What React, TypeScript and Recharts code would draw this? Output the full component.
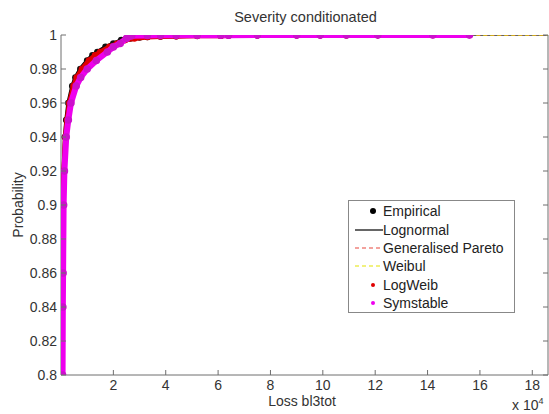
import {
  ComposedChart,
  Line,
  Scatter,
  XAxis,
  YAxis,
} from "recharts";

const FONT = "'Liberation Sans', Arial, sans-serif";
const AXIS = "#6e6e6e";
const INK = "#333";

// empirical CDF (x in units of 10^n)
const empX = [0.03, 0.04, 0.05, 0.07, 0.1, 0.15, 0.2, 0.28, 0.43, 0.55, 0.74, 1.0, 1.2, 1.39, 1.7, 2.0, 2.3, 2.65, 3.0, 3.3, 3.8, 4.4, 5.2, 6.1, 6.4, 7.5, 9.0, 9.9, 10.9, 12.1, 14.2, 15.6];
const empY = [0.8, 0.84, 0.87, 0.9, 0.92, 0.94, 0.95, 0.96, 0.97, 0.975, 0.98, 0.985, 0.988, 0.99, 0.993, 0.995, 0.997, 0.998, 0.9985, 0.9988, 0.9991, 0.9993, 0.9995, 0.9996, 0.9997, 0.9998, 0.99985, 0.9999, 0.99992, 0.99994, 0.99996, 0.99998];

const lognX = [0.03, 0.05, 0.07, 0.1, 0.15, 0.2, 0.28, 0.43, 0.74, 1.0, 1.4, 2.0, 2.7, 3.5, 5, 7, 10, 14, 18.6];
const lognY = [0.8, 0.87, 0.9, 0.92, 0.94, 0.95, 0.96, 0.97, 0.98, 0.985, 0.99, 0.995, 0.998, 0.999, 0.9995, 0.9997, 0.9998, 0.9999, 0.99995];

const gpX = [0.035, 0.05, 0.075, 0.1, 0.16, 0.22, 0.3, 0.45, 0.76, 1.05, 1.45, 2.05, 2.8, 3.6, 5, 7, 10, 14, 18.6];
const gpY = [0.8, 0.86, 0.9, 0.92, 0.94, 0.95, 0.96, 0.97, 0.98, 0.985, 0.99, 0.995, 0.998, 0.999, 0.9995, 0.9997, 0.9998, 0.9999, 0.99995];

const weibX = [0.03, 0.05, 0.07, 0.1, 0.15, 0.21, 0.29, 0.44, 0.75, 1.02, 1.42, 2.0, 2.7, 3.5, 5, 7, 10, 14, 18.6];
const weibY = [0.8, 0.87, 0.9, 0.92, 0.94, 0.95, 0.96, 0.97, 0.98, 0.985, 0.99, 0.995, 0.998, 0.999, 0.9995, 0.9997, 0.9998, 0.9999, 0.99995];

const lwX = [0.04, 0.05, 0.06, 0.08, 0.11, 0.17, 0.23, 0.32, 0.48, 0.6, 0.8, 1.07, 1.3, 1.5, 1.85, 2.15, 2.45, 2.8, 3.3, 3.8, 4.4, 5.2, 6.1, 6.4, 7.5, 9.0, 9.9, 10.9, 12.1, 14.2, 15.6];
const lwY = [0.8, 0.84, 0.87, 0.9, 0.92, 0.94, 0.95, 0.96, 0.97, 0.975, 0.98, 0.985, 0.988, 0.99, 0.993, 0.995, 0.997, 0.998, 0.9988, 0.9991, 0.9993, 0.9995, 0.9996, 0.9997, 0.9998, 0.99985, 0.9999, 0.99992, 0.99994, 0.99996, 0.99998];

const symX = [0.06, 0.07, 0.08, 0.1, 0.13, 0.2, 0.28, 0.38, 0.58, 0.75, 1.0, 1.35, 1.77, 2.0, 2.26, 2.5, 2.7, 3.3, 3.8, 4.4, 5.2, 6.1, 6.4, 7.5, 9.0, 9.9, 10.9, 12.1, 14.2, 15.6];
const symY = [0.8, 0.84, 0.86, 0.9, 0.92, 0.94, 0.95, 0.96, 0.97, 0.975, 0.98, 0.985, 0.99, 0.993, 0.995, 0.998, 0.9995, 0.9997, 0.9998, 0.9998, 0.9999, 0.9999, 0.9999, 0.99995, 0.99995, 0.99995, 0.99996, 0.99997, 0.99998, 0.99999];

const xTicks = [2, 4, 6, 8, 10, 12, 14, 16, 18];
const yTicks = [0.8, 0.82, 0.84, 0.86, 0.88, 0.9, 0.92, 0.94, 0.96, 0.98, 1];

const zip = (xs: number[], ys: number[]) => xs.map((x, i) => ({ x, y: ys[i] }));

const legendItems = [
  { name: "Empirical", kind: "dot", color: "#000", r: 3 },
  { name: "Lognormal", kind: "line", color: "#000", dash: "" },
  { name: "Generalised Pareto", kind: "line", color: "#e8463c", dash: "4 3" },
  { name: "Weibul", kind: "line", color: "#e4e400", dash: "4 3" },
  { name: "LogWeib", kind: "dot", color: "#e00000", r: 2 },
  { name: "Symstable", kind: "dot", color: "#ee00ee", r: 2 },
];

function BottomTick({ x, y, payload }: any) {
  return (
    <g>
      <line x1={x} x2={x} y1={y} y2={y - 5} stroke={AXIS} />
      <text x={x} y={y + 15} textAnchor="middle" fontSize={14} fill={INK} fontFamily={FONT}>
        {payload.value}
      </text>
    </g>
  );
}

function TopTick({ x, y }: any) {
  return <line x1={x} x2={x} y1={y} y2={y + 5} stroke={AXIS} />;
}

function LeftTick({ x, y, payload }: any) {
  return (
    <g>
      <line x1={x} x2={x + 5} y1={y} y2={y} stroke={AXIS} />
      <text x={x - 4} y={y + 5} textAnchor="end" fontSize={14} fill={INK} fontFamily={FONT}>
        {String(+payload.value.toFixed(2))}
      </text>
    </g>
  );
}

function RightTick({ x, y }: any) {
  return <line x1={x} x2={x - 5} y1={y} y2={y} stroke={AXIS} />;
}

function dotShape(color: string, r: number) {
  return (p: any) => <circle cx={p.cx} cy={p.cy} r={r} fill={color} />;
}

function LegendBox() {
  return (
    <div
      style={{
        position: "absolute",
        left: 348,
        top: 200,
        border: "1px solid #888",
        background: "#fff",
        width: 167,
        height: 113,
        boxSizing: "border-box",
        padding: "1px 0 0 0",
        fontFamily: FONT,
        fontSize: 14,
        color: "#222",
      }}
    >
      {legendItems.map((it) => (
        <div key={it.name} style={{ display: "flex", alignItems: "center", height: 18.4 }}>
          <svg width={32} height={10} style={{ marginLeft: 2, flex: "none" }}>
            {it.kind === "dot" ? (
              <circle cx={22} cy={5} r={it.r} fill={it.color} />
            ) : (
              <line x1={4} x2={32} y1={5} y2={5} stroke={it.color} strokeWidth={1.2} strokeDasharray={it.dash} />
            )}
          </svg>
          <span style={{ whiteSpace: "nowrap" }}>{it.name}</span>
        </div>
      ))}
    </div>
  );
}

export default function App() {
  return (
    <div
      style={{
        position: "fixed",
        left: 0,
        top: 0,
        width: 549,
        height: 414,
        overflow: "hidden",
        background: "#fff",
        fontFamily: FONT,
      }}
    >
      <ComposedChart width={549} height={414} margin={{ top: 35, right: 0, bottom: 0, left: 0 }}>
        <XAxis
          xAxisId={0}
          dataKey="x"
          type="number"
          domain={[0, 18.6]}
          allowDataOverflow
          ticks={xTicks}
          interval={0}
          height={39}
          stroke={AXIS}
          tickSize={0}
          tickMargin={0}
          tickLine={false}
          tick={<BottomTick />}
        />
        <XAxis
          xAxisId="t"
          dataKey="x"
          type="number"
          orientation="top"
          domain={[0, 18.6]}
          allowDataOverflow
          ticks={xTicks}
          interval={0}
          height={0}
          stroke={AXIS}
          tickSize={0}
          tickMargin={0}
          tickLine={false}
          tick={<TopTick />}
        />
        <YAxis
          yAxisId={0}
          dataKey="y"
          type="number"
          domain={[0.8, 1]}
          allowDataOverflow
          ticks={yTicks}
          interval={0}
          width={61}
          stroke={AXIS}
          tickSize={0}
          tickMargin={0}
          tickLine={false}
          tick={<LeftTick />}
        />
        <YAxis
          yAxisId="r"
          dataKey="y"
          type="number"
          orientation="right"
          domain={[0.8, 1]}
          allowDataOverflow
          ticks={yTicks}
          interval={0}
          width={1}
          stroke={AXIS}
          tickSize={0}
          tickMargin={0}
          tickLine={false}
          tick={<RightTick />}
        />
        <Scatter
          name="Empirical"
          data={zip(empX, empY)}
          dataKey="y"
          fill="#000"
          line={{ stroke: "#000", strokeWidth: 4 }}
          shape={dotShape("#111", 3.3)}
          isAnimationActive={false}
        />
        <Line
          name="Lognormal"
          data={zip(lognX, lognY)}
          dataKey="y"
          stroke="#000"
          strokeWidth={1}
          dot={false}
          isAnimationActive={false}
        />
        <Line
          name="Generalised Pareto"
          data={zip(gpX, gpY)}
          dataKey="y"
          stroke="#e8463c"
          strokeWidth={1}
          strokeDasharray="4 3"
          dot={false}
          isAnimationActive={false}
        />
        <Line
          name="Weibul"
          data={zip(weibX, weibY)}
          dataKey="y"
          stroke="#e4e400"
          strokeWidth={1}
          strokeDasharray="4 3"
          dot={false}
          isAnimationActive={false}
        />
        <Scatter
          name="LogWeib"
          data={zip(lwX, lwY)}
          dataKey="y"
          fill="#e00000"
          line={{ stroke: "#e00000", strokeWidth: 5 }}
          shape={dotShape("#e00000", 3.3)}
          isAnimationActive={false}
        />
        <Scatter
          name="Symstable"
          data={zip(symX, symY)}
          dataKey="y"
          fill="#ee00ee"
          line={{ stroke: "#ee00ee", strokeWidth: 6 }}
          shape={dotShape("#cc10cc", 3.8)}
          isAnimationActive={false}
        />
      </ComposedChart>
      <LegendBox />
      <div style={{ position: "absolute", left: 0, width: 611, top: 9, textAlign: "center", fontSize: 14.5, color: INK }}>
        Severity conditionated
      </div>
      <div
        style={{
          position: "absolute",
          left: 18,
          top: 205,
          transform: "translate(-50%, -50%) rotate(-90deg)",
          fontSize: 14,
          color: INK,
          whiteSpace: "nowrap",
        }}
      >
        Probability
      </div>
      <div style={{ position: "absolute", left: 0, width: 604, top: 393, textAlign: "center", fontSize: 14, color: INK }}>
        Loss bl3tot
      </div>
      <div
        style={{
          position: "absolute",
          left: 512,
          top: 398,
          fontSize: 14,
          lineHeight: "14px",
          color: INK,
          whiteSpace: "nowrap",
        }}
      >
        x 10<span style={{ fontSize: 9, position: "relative", top: -6 }}>4</span>
      </div>
    </div>
  );
}
